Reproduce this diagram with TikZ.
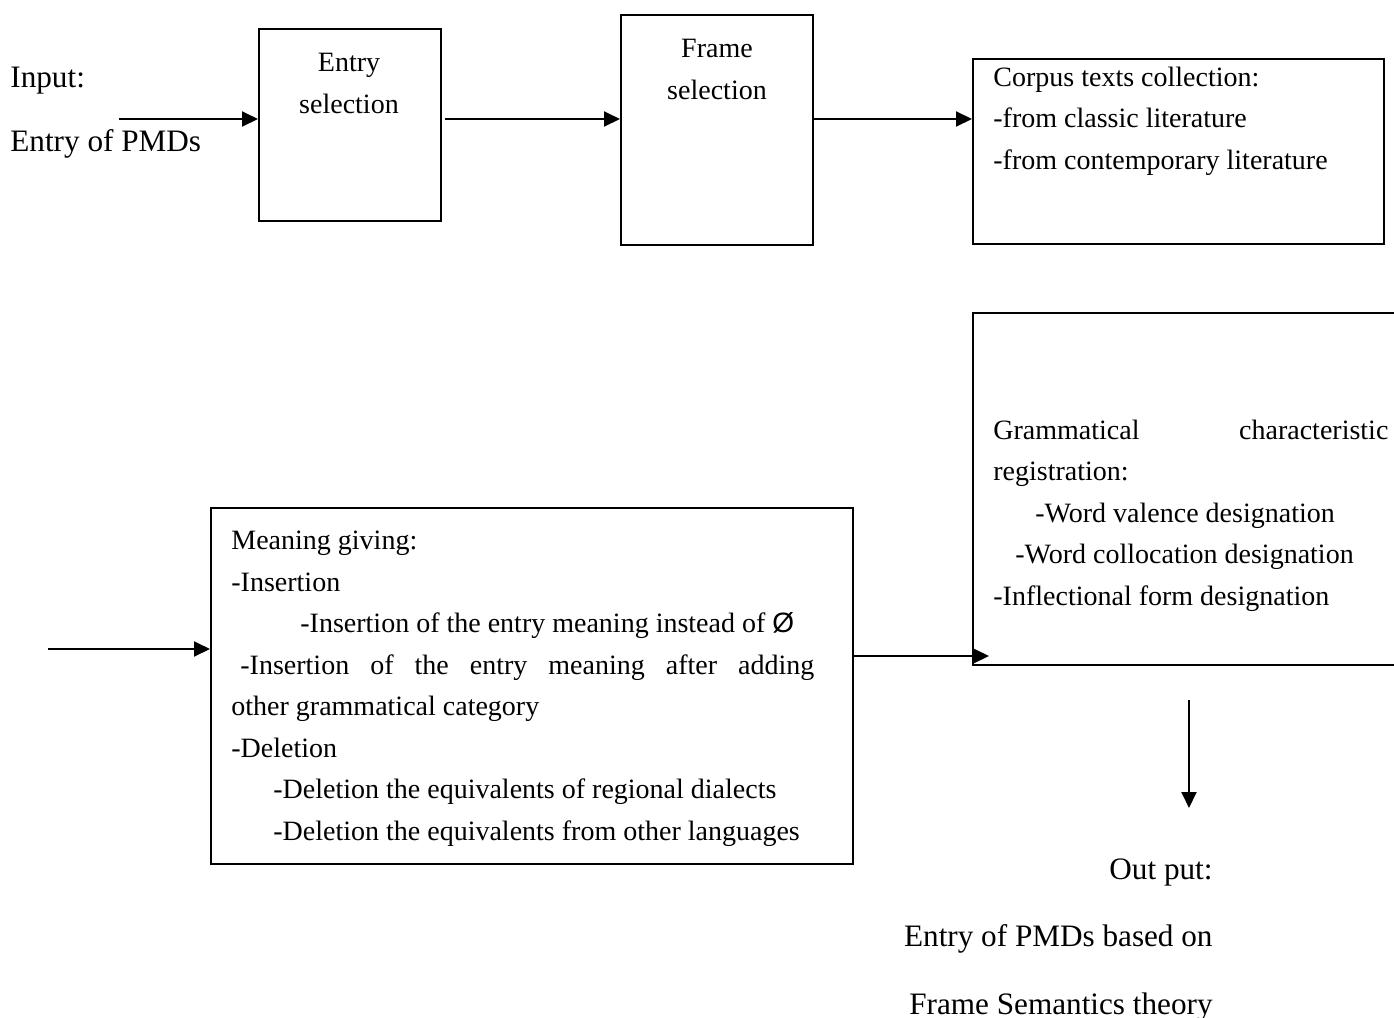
\documentclass[tikz,border=0pt]{standalone}
\usepackage{fontspec}
\setmainfont{Liberation Serif}
\newfontfamily\slashfont{Liberation Sans}
\usetikzlibrary{arrows.meta}

\begin{document}
\begin{tikzpicture}[x=0.5pt,y=-0.5pt,
  box/.style={draw,line width=1pt,inner sep=0pt},
  boxtext/.style={inner sep=0pt,font=\fontsize{14}{20.75}\selectfont},
  flow/.style={line width=1pt,-{Triangle[length=8pt,width=7.5pt]}}]
\useasboundingbox (0,0) rectangle (1394,1018);
% boxes
\path (350,125)    node[box,minimum width=91pt,minimum height=96pt]   (entry)   {};
\path (717,130)    node[box,minimum width=96pt,minimum height=115pt]  (frame)   {};
\path (1178.5,151.5) node[box,minimum width=205.5pt,minimum height=92.5pt] (corpus) {};
\path (1189,489)   node[box,minimum width=216pt,minimum height=176pt] (gram)    {};
\path (532,686)    node[box,minimum width=321pt,minimum height=178pt] (meaning) {};
% texts
\path (10,151) node[inner sep=0pt,anchor=base west,align=left,
  font=\fontsize{15.6}{32}\selectfont] (input) {Input:\\Entry of PMDs};
\path (349,113) node[boxtext,anchor=base,align=center] (entrytxt) {Entry\\selection};
\path (717,99) node[boxtext,anchor=base,align=center] (frametxt) {Frame\\selection};
\path (993,169) node[boxtext,anchor=base west,align=left] (corpustxt)
  {Corpus texts collection:\\-from classic literature\\-from contemporary literature};
\path (993,605) node[boxtext,anchor=base west,align=left] (gramtxt)
  {\hbox to 197.5pt{Grammatical\hfill characteristic}\\
   registration:\\
   \hspace*{21pt}-Word valence designation\\
   \hspace*{11pt}-Word collocation designation\\
   -Inflectional form designation};
\path (231,840) node[boxtext,anchor=base west,align=left] (meaningtxt)
  {Meaning giving:\\
   -Insertion\\
   \hspace*{34.5pt}-Insertion of the entry meaning instead of {\slashfont Ø}\\
   \hspace*{4.5pt}\hbox to 287pt{-Insertion\hfill of\hfill the\hfill entry\hfill meaning\hfill after\hfill adding}\\
   other grammatical category\\
   -Deletion\\
   \hspace*{21pt}-Deletion the equivalents of regional dialects\\
   \hspace*{21pt}-Deletion the equivalents from other languages};
\path (1213,1014) node[inner sep=0pt,anchor=base east,align=right,
  font=\fontsize{15.6}{33.75}\selectfont] (output)
  {Out put:\\Entry of PMDs based on\\Frame Semantics theory};
% connectors
\coordinate (instart) at (119,119);
\coordinate (mstart)  at (48,649);
\coordinate (mline)   at (900,656);
\coordinate (outend)  at (1189,808);
\draw[flow] (instart) -- (instart -| entry.west);
\draw[flow] ([xshift=1.5pt]entry.east |- instart) -- (frame.west |- instart);
\draw[flow] (frame.east |- instart) -- (corpus.west |- instart);
\draw[flow] (mstart) -- (mstart -| meaning.west);
\draw[flow] (meaning.east |- mline) -- ([xshift=8.5pt]gram.west |- mline);
\draw[flow,shorten <=17pt] (gram.south) -- (outend);
\end{tikzpicture}
\end{document}
